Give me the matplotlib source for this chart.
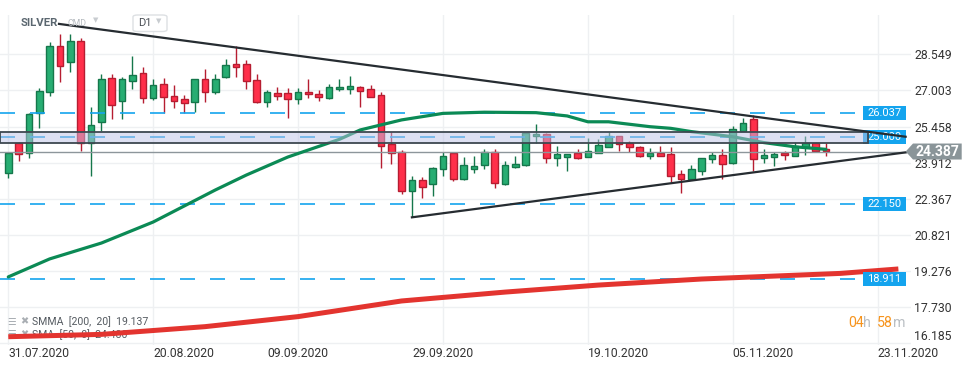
import numpy as np
import matplotlib
matplotlib.use('Agg')
import matplotlib.pyplot as plt
import matplotlib.transforms as mtransforms
from matplotlib.patches import Rectangle, Polygon, FancyBboxPatch

plt.rcParams['font.family'] = ['Roboto', 'DejaVu Sans']
plt.rcParams['lines.scale_dashes'] = False

# daily candles, index 0 = 31.07.2020
opens = [23.46, 24.74, 24.31, 26.02, 26.92, 28.92, 28.21, 29.11, 24.75, 25.66,
         27.52, 26.56, 27.42, 27.74, 26.67, 27.27, 26.76, 26.62, 26.49, 27.48,
         26.95, 27.56, 28.13, 28.13, 27.45, 26.52, 26.91, 26.88, 26.65, 26.92,
         26.84, 26.67, 27.05, 27.08, 27.16, 27.05, 26.81, 24.71, 24.38, 22.71,
         23.17, 22.98, 23.63, 24.31, 23.20, 23.65, 23.80, 24.38, 22.98, 23.74,
         23.80, 25.05, 25.12, 24.10, 24.17, 24.31, 24.17, 24.34, 24.59, 25.05,
         24.74, 24.59, 24.21, 24.31, 24.28, 23.41, 23.21, 23.57, 24.05, 24.24,
         23.88, 25.27, 25.77, 24.10, 24.17, 24.34, 24.21, 24.59, 24.77, 24.48]
highs = [24.34, 24.78, 26.02, 27.11, 29.06, 29.41, 29.41, 29.23, 26.31, 27.71,
         27.71, 27.59, 28.48, 28.01, 27.49, 27.55, 27.24, 26.81, 27.49, 27.92,
         27.71, 28.35, 28.90, 28.31, 27.71, 27.02, 27.16, 27.09, 27.09, 27.49,
         27.02, 27.28, 27.50, 27.62, 27.19, 27.24, 26.92, 25.24, 24.45, 23.34,
         23.28, 23.71, 24.35, 24.34, 24.14, 24.20, 24.50, 24.50, 23.98, 24.20,
         25.19, 25.57, 25.17, 24.62, 24.29, 24.48, 24.95, 24.92, 25.24, 25.07,
         24.85, 24.62, 24.53, 24.62, 24.57, 23.60, 23.81, 24.12, 24.38, 24.48,
         25.48, 25.81, 25.95, 24.48, 24.38, 24.41, 24.81, 25.05, 24.79, 24.74]
lows = [23.27, 23.99, 24.12, 25.38, 26.78, 27.38, 27.80, 24.41, 23.35, 25.27,
        25.77, 25.79, 27.06, 26.46, 26.61, 26.02, 26.26, 26.05, 26.09, 26.52,
        26.84, 27.55, 27.56, 27.06, 26.48, 26.31, 26.59, 25.84, 26.41, 26.69,
        26.56, 26.65, 26.99, 26.85, 26.31, 26.71, 23.70, 23.84, 22.57, 21.57,
        22.41, 22.50, 23.35, 23.14, 23.18, 23.48, 23.64, 22.84, 22.96, 23.67,
        23.78, 24.77, 23.88, 23.78, 23.57, 24.08, 24.14, 24.31, 24.58, 24.41,
        24.38, 24.17, 24.08, 24.19, 23.07, 22.60, 23.17, 23.38, 23.91, 23.21,
        23.86, 25.25, 23.57, 23.91, 23.78, 24.02, 24.20, 24.24, 24.40, 24.21]
closes = [24.31, 24.27, 25.98, 26.97, 28.92, 28.06, 29.11, 24.75, 25.52, 27.48,
          26.37, 27.49, 27.66, 26.67, 27.22, 26.71, 26.56, 26.48, 27.48, 26.95,
          27.48, 28.08, 28.02, 27.42, 26.51, 26.92, 26.78, 26.62, 26.92, 26.84,
          26.73, 27.14, 27.16, 27.19, 26.98, 26.73, 24.64, 24.34, 22.71, 23.17,
          22.86, 23.67, 24.20, 23.20, 23.80, 23.77, 24.38, 23.03, 23.80, 23.85,
          25.17, 25.14, 24.10, 24.27, 24.27, 24.10, 24.41, 24.65, 25.05, 24.70,
          24.59, 24.21, 24.31, 24.21, 23.35, 23.21, 23.63, 24.10, 24.24, 23.84,
          25.34, 25.60, 24.05, 24.24, 24.28, 24.24, 24.62, 24.74, 24.42, 24.39]

date_idx = [0, 14, 28, 42, 56, 70, 84]
date_labels = ['31.07.2020', '20.08.2020', '09.09.2020', '29.09.2020',
               '19.10.2020', '05.11.2020', '23.11.2020']
date_align = ['left', 'left', 'center', 'center', 'left', 'left', 'left']
price_ticks = [16.185, 17.730, 19.276, 20.821, 22.367, 23.912, 25.458, 27.003, 28.549]

sma50_idx = [0, 4, 9, 14, 20, 23, 27, 32, 34, 38, 42, 46, 51, 54, 56, 58, 62, 64, 66, 70, 73, 76, 79]
sma50_val = [19.02, 19.79, 20.47, 21.37, 22.74, 23.38, 24.15, 24.91, 25.31, 25.74, 26.02, 26.07,
             26.05, 25.91, 25.66, 25.66, 25.45, 25.38, 25.24, 25.02, 24.77, 24.59, 24.48]
smma200_idx = [0, 9, 19, 28, 38, 48, 57, 67, 80.4, 86]
smma200_val = [16.46, 16.56, 16.89, 17.32, 17.99, 18.37, 18.67, 18.93, 19.17, 19.36]

upper_idx = [4.9, 86.7]
upper_val = [29.85, 25.02]
lower_idx = [39.0, 86.7]
lower_val = [21.57, 24.35]

levels = [26.037, 25.000, 22.150, 18.911]
zone_lo, zone_hi = 24.74, 25.24
last_price = 24.387

GREEN, GREEN_EDGE = '#27ad72', '#15774b'
RED, RED_EDGE = '#ff2f4a', '#b61d31'
BLUE = '#14a4ee'


def main():
    fig = plt.figure(figsize=(9.74, 3.68), dpi=100)
    ax = fig.add_axes([0, 23 / 368, 911 / 974, 330 / 368])
    ax.set_xlim(-0.8, 87.22)
    ax.set_ylim(16.105, 30.231)
    for s in ax.spines.values():
        s.set_visible(False)

    ax.set_yticks(price_ticks)
    ax.set_yticklabels(['%.3f' % t for t in price_ticks])
    ax.yaxis.tick_right()
    ax.tick_params(axis='y', length=0, pad=2.2, labelsize=8.8, labelcolor='#333333')
    ax.get_yticklabels()[0].set_va('bottom')
    ax.set_xticks(date_idx)
    ax.set_xticklabels(date_labels)
    ax.tick_params(axis='x', length=0, pad=1.2, labelsize=8.7, labelcolor='#333333')
    for lbl, al in zip(ax.get_xticklabels(), date_align):
        lbl.set_ha(al)
    ax.grid(color='#eef0f2', lw=1.0, zorder=0)
    ax.set_axisbelow(True)

    # candles
    idx = np.arange(len(opens))
    o, h, l, c = map(np.array, (opens, highs, lows, closes))
    up = c >= o
    body_lo = np.minimum(o, c)
    body_h = np.maximum(np.abs(c - o), 0.07)
    for m, fc, ec in ((up, GREEN, GREEN_EDGE), (~up, RED, RED_EDGE)):
        ax.vlines(idx[m], l[m], h[m], color=ec, lw=1.0, zorder=3)
        ax.bar(idx[m], body_h[m], bottom=body_lo[m], width=0.64, color=fc,
               edgecolor=ec, linewidth=1.0, zorder=3)

    # horizontal levels
    for lv in levels:
        ax.hlines(lv, -0.8, 82.0, color=BLUE, lw=1.2, linestyle=(0, (10.8, 10.8)), zorder=3.5)
    ax.axhline(last_price, color='#8d969b', lw=1.0, zorder=3.5)

    # moving averages
    ax.plot(sma50_idx, sma50_val, color='#0b8a55', lw=2.3, solid_capstyle='round', zorder=4)
    ax.plot(smma200_idx, smma200_val, color='#e3342f', lw=3.6, solid_capstyle='butt', zorder=4)

    # zone around 25.000
    ax.add_patch(Rectangle((-0.8, zone_lo), 83.86, zone_hi - zone_lo,
                           facecolor=(0.74, 0.76, 0.9, 0.5), edgecolor='#3d4850', lw=1.3, zorder=5))

    # triangle
    ax.plot(upper_idx, upper_val, color='#262c31', lw=1.6, zorder=6)
    ax.plot(lower_idx, lower_val, color='#262c31', lw=1.6, zorder=6)

    # level tags
    blend = mtransforms.blended_transform_factory(fig.transFigure, ax.transData)
    for lv in levels:
        ax.add_patch(Rectangle((862.7 / 974, lv - 0.30), 43 / 974, 0.60, transform=blend,
                               facecolor=BLUE, edgecolor='none', clip_on=False, zorder=4.5))
        ax.text(884.2 / 974, lv, '%.3f' % lv, transform=blend, color='white', fontsize=8,
                ha='center', va='center', clip_on=False, zorder=4.6)

    # last price tag
    hh = 8 / 23.36
    tag = [(905.7 / 974, last_price), (913 / 974, last_price + hh), (961.7 / 974, last_price + hh),
           (961.7 / 974, last_price - hh), (913 / 974, last_price - hh)]
    ax.add_patch(Polygon(tag, closed=True, transform=blend, facecolor='#8a9599',
                         edgecolor='none', clip_on=False, zorder=10))
    ax.text(937 / 974, last_price, '%.3f' % last_price, transform=blend, color='white',
            fontsize=10, fontweight='bold', ha='center', va='center', clip_on=False, zorder=11)

    # header
    fy = lambda py: 1 - py / 368
    fig.text(20.7 / 974, fy(23.5), 'SILVER', fontsize=8.2, fontweight='bold', color='#5b6770', va='center')
    fig.text(67.7 / 974, fy(24), 'CMD', fontsize=6.3, color='#b6bbc0', va='center')
    fig.text(93 / 974, fy(21), '▼', fontsize=5, color='#c8ccd0', va='center')
    fig.patches.append(FancyBboxPatch((133 / 974, fy(31.5)), 34 / 974, 16.5 / 368,
                                      boxstyle='round,pad=0,rounding_size=0.005',
                                      transform=fig.transFigure, facecolor='white',
                                      edgecolor='#dde0e3', lw=1.0))
    fig.text(138 / 974, fy(23.5), 'D1', fontsize=8, color='#4a4f55', va='center')
    fig.text(156 / 974, fy(22), '▼', fontsize=5, color='#c8ccd0', va='center')

    # indicator legend (under the red line)
    rows = [('SMMA  [200,  20]  19.137', 321.7), ('SMA  [50,  0]  24.480', 334.3)]
    for txt, py in rows:
        ax.text(7 / 974, fy(py), '☰', transform=fig.transFigure, fontsize=7, color='#a9aeb3',
                va='center', zorder=1)
        ax.text(20 / 974, fy(py), '✖', transform=fig.transFigure, fontsize=7, color='#a9aeb3',
                va='center', zorder=1)
        ax.text(32 / 974, fy(py), txt, transform=fig.transFigure, fontsize=7.6, color='#555b61',
                va='center', zorder=1)

    # countdown
    for s, px, col in (('04', 848.3, '#f7941d'), ('h', 863.5, '#b9bec3'),
                       ('58', 877.3, '#f7941d'), ('m', 893.3, '#b9bec3')):
        fig.text(px / 974, fy(323.3), s, fontsize=10.2, color=col, va='center')

    fig.savefig('out.png', dpi=100)


if __name__ == '__main__':
    main()
